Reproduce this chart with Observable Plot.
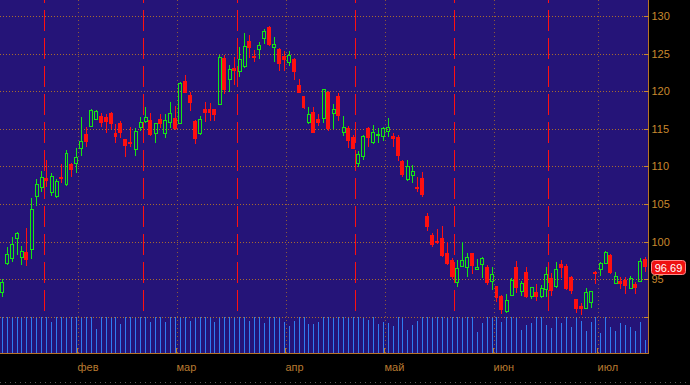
<!DOCTYPE html>
<html><head><meta charset="utf-8">
<script src="https://cdn.jsdelivr.net/npm/d3@7"></script>
<script src="https://cdn.jsdelivr.net/npm/@observablehq/plot@0.6"></script>
<style>
html,body{margin:0;padding:0;background:#000;}
#wrap{position:relative;width:690px;height:385px;overflow:hidden;background:#000;}
#bg{position:absolute;left:0;top:0;width:648px;height:353px;background:#251478;border-right:1px solid #b87428;border-bottom:1px solid #b87428;}
#foot{position:absolute;left:0;top:382px;width:690px;height:1px;background:repeating-linear-gradient(to right,#555 0 1px,transparent 1px 5px);}
#wrap svg{position:absolute;left:0;top:0;}
</style></head><body><div id="wrap"><div id="bg"></div><div id="foot"></div></div>
<script>
const opens = [93.3,97.2,97.8,100.5,98.0,98.6,99.0,106.1,107.3,108.5,
106.6,106.1,108.6,107.7,110.3,110.5,112.5,114.3,115.4,116.3,
116.7,116.6,117.1,114.4,115.8,113.6,113.2,112.3,115.2,116.0,
116.2,114.4,116.3,114.4,115.9,116.4,115.8,121.4,119.5,116.0,
114.4,117.6,117.6,117.6,118.3,124.4,121.6,123.1,122.7,123.4,
126.7,124.7,125.6,127.1,128.5,125.9,125.6,124.7,123.9,124.3,
120.8,119.4,115.9,117.2,116.3,116.5,119.9,117.1,119.4,114.6,
115.1,113.9,110.5,111.4,115.1,113.2,114.2,114.0,114.7,114.0,
113.9,110.7,108.3,108.9,107.3,108.5,103.4,100.9,100.1,100.5,
98.5,97.6,94.6,96.8,96.6,98.5,96.4,97.0,96.6,94.8,
94.1,92.8,90.8,92.9,96.6,93.4,96.0,92.8,93.3,92.8,
93.7,95.2,94.1,97.0,96.8,95.3,92.4,91.4,91.2,92.0,
96.0,96.4,97.2,98.2,94.5,94.8,94.9,93.8,94.4,94.8,
97.7];
const highs = [95.0,99.3,100.6,101.3,99.4,101.8,105.8,108.3,109.4,110.9,
109.1,108.3,110.3,112.2,110.4,112.5,116.6,115.2,117.6,117.5,
117.1,117.0,117.2,115.6,116.0,113.7,115.2,115.1,116.6,117.9,
117.1,115.8,117.0,117.0,118.6,118.0,121.2,122.2,119.9,116.2,
116.7,118.6,118.4,117.7,124.8,124.8,123.5,124.6,125.9,127.7,
127.5,125.5,126.5,128.3,128.7,127.2,125.7,125.4,125.4,124.4,
121.6,119.4,117.9,117.9,117.0,120.3,120.0,118.3,119.8,116.7,
115.4,114.2,112.1,114.2,115.2,115.5,115.1,115.2,116.4,114.4,
114.2,110.9,110.9,110.2,108.6,109.3,103.8,101.1,101.7,102.1,
100.0,97.8,97.6,100.0,98.5,98.5,97.7,97.9,96.9,96.6,
94.1,92.9,93.0,95.2,97.4,94.8,96.6,94.0,94.4,94.2,
96.6,95.8,97.3,97.6,97.0,95.4,92.4,91.8,93.8,93.5,
96.1,97.3,98.8,98.3,96.0,95.3,95.3,95.4,94.6,97.8,
97.9];
const lows = [92.6,96.9,97.3,98.2,96.9,96.8,97.7,104.7,106.6,107.3,
106.1,105.8,107.8,107.4,108.6,109.1,111.4,112.6,115.2,116.2,
115.2,114.4,115.0,113.1,113.8,111.3,112.6,111.4,114.7,115.8,
114.1,113.1,115.1,113.8,115.1,114.9,115.7,119.7,117.4,113.0,
114.2,115.9,116.0,116.0,118.2,119.6,119.9,120.8,121.9,123.1,
124.4,123.9,124.3,126.3,126.0,123.9,122.7,122.7,123.4,121.5,
119.7,117.6,115.6,114.4,115.4,115.8,114.7,115.0,116.0,114.0,
112.4,112.3,109.9,110.9,112.6,113.0,113.1,113.4,113.9,112.6,
110.7,108.6,108.1,107.8,106.6,105.9,101.4,99.3,99.7,98.0,
96.9,95.0,94.0,96.7,95.3,95.7,96.3,95.2,94.2,93.6,
92.0,90.4,90.5,92.8,93.2,92.8,92.5,92.4,92.1,92.5,
92.6,92.8,93.8,95.2,93.6,93.0,90.5,90.2,91.0,91.2,
94.4,95.4,97.0,95.7,94.4,93.7,93.0,93.7,93.0,94.6,
96.0];
const closes = [94.6,98.4,99.7,101.1,98.8,97.6,104.3,107.7,108.6,108.1,
108.7,108.1,108.3,111.8,109.5,111.3,113.4,113.2,117.5,117.4,
115.8,115.9,115.6,113.9,114.4,112.7,113.0,114.7,115.9,116.6,
114.2,115.8,115.6,116.2,117.1,115.0,121.1,119.8,118.4,113.6,
116.3,117.1,117.1,116.8,124.5,120.2,123.0,122.7,124.3,126.0,
125.8,124.4,126.1,128.0,126.1,126.3,123.6,124.1,124.8,122.6,
119.8,117.8,117.0,114.5,115.8,120.3,115.0,117.6,116.7,115.2,
113.4,112.3,111.7,114.0,113.8,114.6,114.3,115.1,115.2,113.6,
111.4,108.9,110.1,109.4,107.0,106.2,101.9,99.6,99.8,98.1,
97.0,95.3,96.5,97.6,98.0,96.8,96.6,97.8,94.5,95.7,
92.5,90.9,92.2,94.9,93.8,94.5,92.6,94.0,92.6,93.8,
95.7,93.4,96.4,96.5,93.7,93.4,91.0,91.0,93.3,93.4,
95.7,97.2,98.6,95.8,95.4,94.4,94.1,95.2,93.8,97.4,
96.69];
const volumes = [100,100,100,100,100,100,100,100,100,100,
87,100,100,100,100,100,100,100,100,67,
100,100,100,100,80,100,100,100,100,100,
87,100,100,85,100,100,100,100,90,100,
100,100,100,85,100,100,100,100,100,100,
90,100,100,84,100,100,100,85,75,90,
100,100,80,80,85,100,100,100,100,100,
100,100,100,100,92,100,81,85,83,75,
100,100,64,78,90,100,100,100,100,100,
100,100,100,100,100,100,59,83,100,100,
100,87,100,100,100,64,78,83,100,100,
78,69,100,83,100,72,100,90,62,87,
100,55,100,72,62,84,78,72,62,87,
36];
const monthLabels = ["фев","мар","апр","май","июн","июл"];
const monthStart = [16,36,58,78,100,121];
const eventDays = [9,29,48,72,92,111];
const priceTicks = [90,95,100,105,110,115,120,125,130];
const priceTickLabels = ["","95","100","105","110","115","120","125","130"];
const lastPrice = 96.69;

const candles = opens.map((o, i) => ({i, open: o, high: highs[i], low: lows[i], close: closes[i], vol: volumes[i]}));
const up = candles.filter(d => d.close >= d.open);
const down = candles.filter(d => d.close < d.open);

const W = 690, H = 385;
const xDomain = [-0.34, 130.62];
const yDomain = [85.19, 132.13];
const GREEN = "#14e614", RED = "#ff1010", AXIS = "#c8882e";
const baseStyle = {background: "transparent", color: AXIS, fontFamily: "'Liberation Sans', Arial, sans-serif", fontSize: "11px", overflow: "visible"};

const volPlot = Plot.plot({
  width: W, height: H, marginLeft: 0, marginRight: 42, marginTop: 317, marginBottom: 32,
  x: {domain: xDomain, round: true, axis: null, label: null},
  y: {domain: [0, 100], round: true, axis: null, label: null},
  style: baseStyle,
  marks: [Plot.ruleX(candles, {x: "i", y1: 0, y2: "vol", stroke: "#2f7cf0", strokeWidth: 1})]
});

const monthPos = monthStart.map(i => i - 0.5);
const labelOf = new Map(monthPos.map((p, k) => [p, monthLabels[k]]));
const tickLabelOf = new Map(priceTicks.map((t, k) => [t, priceTickLabels[k]]));

const pricePlot = Plot.plot({
  width: W, height: H, marginLeft: 0, marginRight: 42, marginTop: 0, marginBottom: 32,
  x: {domain: xDomain, round: true, label: null},
  y: {domain: yDomain, round: true, label: null},
  style: baseStyle,
  marks: [
    Plot.gridY(priceTicks, {stroke: "#c07a22", strokeOpacity: 0.85, strokeDasharray: "1,2"}),
    Plot.gridX(monthPos, {stroke: "#9a6432", strokeOpacity: 0.9, strokeDasharray: "1,3"}),
    Plot.ruleX(eventDays, {x: d => d - 0.5, y1: yDomain[1], y2: 90.8, stroke: "#ff1010", strokeDasharray: "21,7", strokeDashoffset: 18}),
    Plot.ruleX(down, {x: "i", y1: "low", y2: "high", stroke: RED}),
    Plot.rect(down, {x1: d => d.i - 0.4, x2: d => d.i + 0.4, y1: "open", y2: "close", fill: RED}),
    Plot.ruleX(up, {x: "i", y1: "high", y2: "close", stroke: GREEN}),
    Plot.ruleX(up, {x: "i", y1: "open", y2: "low", stroke: GREEN}),
    Plot.rect(up, {x1: d => d.i - 0.3, x2: d => d.i + 0.3, y1: "open", y2: "close", fill: "none", stroke: GREEN, dx: 0.5, dy: 0.5}),
    Plot.axisY(priceTicks, {anchor: "right", tickSize: -5, tickPadding: 8, tickFormat: d => tickLabelOf.get(d), color: AXIS, label: null}),
    Plot.axisX(monthPos, {anchor: "bottom", tickSize: -5, tickPadding: 15, tickFormat: d => labelOf.get(d), textAnchor: "start", dx: -1, color: "#b87a30", label: null})
  ]
});

const wrap = document.getElementById("wrap");
wrap.appendChild(volPlot);
wrap.appendChild(pricePlot);

const yPos = pricePlot.scale("y").apply(lastPrice);
const xEdge = pricePlot.scale("x").range[1];
const tag = d3.select(pricePlot).append("g");
tag.append("rect").attr("x", xEdge + 3.5).attr("y", Math.round(yPos) - 6.5).attr("width", 34).attr("height", 14)
  .attr("rx", 3).attr("fill", "#ee1111").attr("stroke", "#ff8a8a");
tag.append("text").attr("x", xEdge + 20.5).attr("y", Math.round(yPos) + 4.5).attr("text-anchor", "middle")
  .attr("fill", "#fff").attr("font-size", 11).attr("font-family", "'Liberation Sans', Arial, sans-serif").text(lastPrice.toFixed(2));
</script>
</body></html>
